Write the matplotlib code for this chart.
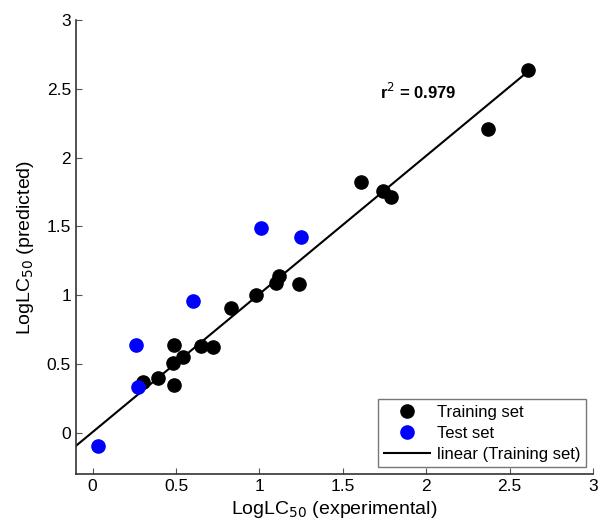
import numpy as np
import matplotlib
matplotlib.use("Agg")
import matplotlib.pyplot as plt

plt.rcParams['font.family'] = ['Liberation Sans', 'DejaVu Sans']

train_x = [2.61, 2.37, 1.61, 1.74, 1.79, 1.24, 1.12, 1.10, 0.98, 0.83, 0.72, 0.65, 0.54, 0.49, 0.48, 0.49, 0.39, 0.30]
train_y = [2.64, 2.21, 1.82, 1.76, 1.71, 1.08, 1.14, 1.09, 1.00, 0.91, 0.62, 0.63, 0.55, 0.64, 0.51, 0.35, 0.40, 0.37]
test_x = [0.03, 0.27, 0.26, 0.60, 1.01, 1.25]
test_y = [-0.10, 0.33, 0.64, 0.96, 1.49, 1.42]
fit_slope = 1.004
fit_intercept = 0.005
line_x = [-0.1, 2.61]
x_ticks = [0, 0.5, 1, 1.5, 2, 2.5, 3]
y_ticks = [0, 0.5, 1, 1.5, 2, 2.5, 3]

fig = plt.figure(figsize=(5.98, 5.24), dpi=100)
ax = fig.add_axes([0.127, 0.0954, 0.8646, 0.8664])

ax.plot(train_x, train_y, 'o', color='black', markersize=9.5, label='Training set', zorder=3)
ax.plot(test_x, test_y, 'o', color='#0000ff', markersize=9.5, label='Test set', zorder=3)
lx = np.array(line_x)
ax.plot(lx, fit_slope * lx + fit_intercept, '-', color='black', lw=1.5, label='linear (Training set)', zorder=2)

ax.set_xlim(-0.1, 3)
ax.set_ylim(-0.3, 3)
ax.set_xticks(x_ticks)
ax.set_yticks(y_ticks)
ax.set_xticklabels(['0', '0.5', '1', '1.5', '2', '2.5', '3'])
ax.set_yticklabels(['0', '0.5', '1', '1.5', '2', '2.5', '3'])
ax.tick_params(direction='in', length=4, labelsize=12.5, color='#555555')
for s in ['top', 'right']:
    ax.spines[s].set_visible(False)
for s in ['left', 'bottom']:
    ax.spines[s].set_linewidth(1.2)
    ax.spines[s].set_color('#333333')

ax.set_xlabel('LogLC$_{50}$ (experimental)', fontsize=14, labelpad=4)
ax.set_ylabel('LogLC$_{50}$ (predicted)', fontsize=14, labelpad=8)

ax.text(1.95, 2.48, r'r$^2$ = 0.979', fontsize=12, fontweight='bold', ha='center', va='center')

leg = ax.legend(loc='lower right', fontsize=12, frameon=True, fancybox=False,
                edgecolor='#555555', handlelength=2.8, borderpad=0.35,
                labelspacing=0.35, handletextpad=0.4, borderaxespad=0.4)
leg.get_frame().set_linewidth(1.0)

fig.savefig('out.png', dpi=100)
